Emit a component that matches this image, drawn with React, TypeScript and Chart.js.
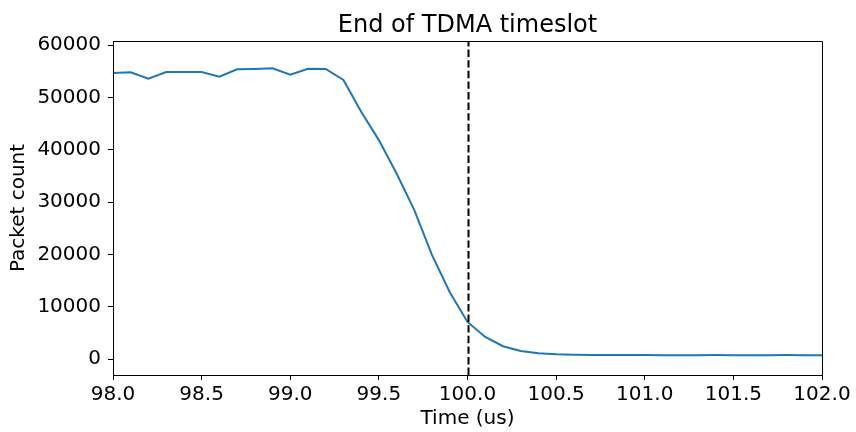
import React, { useEffect, useRef } from "react";
import { Chart, registerables } from "chart.js";

Chart.register(...registerables);

// Sample times (microseconds) and packet counts around the end of the slot
const timeUs = [
  98.0, 98.1, 98.2, 98.3, 98.4, 98.5, 98.6, 98.7, 98.8, 98.9,
  99.0, 99.1, 99.2, 99.3, 99.4, 99.5, 99.6, 99.7, 99.8, 99.9,
  100.0, 100.1, 100.2, 100.3, 100.4, 100.5, 100.6, 100.7, 100.8, 100.9,
  101.0, 101.1, 101.2, 101.3, 101.4, 101.5, 101.6, 101.7, 101.8, 101.9,
  102.0,
];
const packetCount = [
  54680, 54820, 53600, 54870, 54870, 54870, 53980, 55390, 55450, 55580,
  54360, 55510, 55450, 53350, 47290, 41870, 35500, 28490, 19900, 12800,
  7130, 4270, 2490, 1590, 1150, 950, 850, 820, 810, 800,
  800, 790, 780, 790, 800, 790, 780, 790, 800, 790,
  780,
];

const xTicks = [98.0, 98.5, 99.0, 99.5, 100.0, 100.5, 101.0, 101.5, 102.0];
const yTicks = [0, 10000, 20000, 30000, 40000, 50000, 60000];

const slotEndUs = 100.0;
const chartTitle = "End of TDMA timeslot";
const xLabel = "Time (us)";
const yLabel = "Packet count";

const FONT = "'DejaVu Sans', 'Liberation Sans', sans-serif";

// Title, slot-end marker and the closed axes frame
const decorations = {
  id: "decorations",
  afterDatasetsDraw(chart: any) {
    const { ctx, chartArea, scales } = chart;
    const x = Math.round(scales.x.getPixelForValue(slotEndUs)) + 0.5;
    ctx.save();
    ctx.strokeStyle = "#000";
    ctx.lineWidth = 2;
    ctx.setLineDash([7.4, 3.2]);
    ctx.beginPath();
    ctx.moveTo(x, chartArea.bottom);
    ctx.lineTo(x, chartArea.top);
    ctx.stroke();
    ctx.restore();
  },
  afterDraw(chart: any) {
    const { ctx, chartArea } = chart;
    ctx.save();
    ctx.strokeStyle = "#000";
    ctx.lineWidth = 1;
    const l = Math.round(chartArea.left) + 0.5;
    const r = Math.round(chartArea.right) + 0.5;
    const t = Math.round(chartArea.top) + 0.5;
    const b = Math.round(chartArea.bottom) + 0.5;
    ctx.beginPath();
    ctx.moveTo(l, b);
    ctx.lineTo(l, t);
    ctx.lineTo(r, t);
    ctx.lineTo(r, b);
    ctx.lineTo(l, b);
    ctx.stroke();

    ctx.fillStyle = "#000";
    ctx.font = `24px ${FONT}`;
    ctx.textAlign = "center";
    ctx.textBaseline = "alphabetic";
    ctx.fillText(chartTitle, (chartArea.left + chartArea.right) / 2, 31.5);
    ctx.restore();
  },
};

export default function App() {
  const canvasRef = useRef<HTMLCanvasElement | null>(null);

  useEffect(() => {
    document.body.style.margin = "0";
    const canvas = canvasRef.current;
    if (!canvas) return;

    const chart = new Chart(canvas, {
      type: "line",
      data: {
        datasets: [
          {
            data: timeUs.map((t, i) => ({ x: t, y: packetCount[i] })),
            borderColor: "#1f77b4",
            borderWidth: 2,
            pointRadius: 0,
            fill: false,
            tension: 0,
          },
        ],
      },
      options: {
        responsive: false,
        animation: false,
        devicePixelRatio: 1,
        layout: { padding: { top: 41, right: 34, bottom: 0, left: 0 } },
        plugins: {
          legend: { display: false },
          tooltip: { enabled: false },
          title: { display: false },
        },
        scales: {
          x: {
            type: "linear",
            min: 98,
            max: 102,
            afterBuildTicks: (scale: any) => {
              scale.ticks = xTicks.map((v) => ({ value: v }));
            },
            afterFit: (scale: any) => {
              scale.height = 57;
            },
            ticks: {
              color: "#000",
              font: { family: FONT, size: 20 },
              padding: 3,
              maxRotation: 0,
              autoSkip: false,
              callback: (v: any) => Number(v).toFixed(1),
            },
            grid: {
              drawOnChartArea: false,
              drawTicks: true,
              tickLength: 5,
              color: "#000",
              lineWidth: 1,
            },
            border: { display: true, color: "#000", width: 1 },
            title: {
              display: true,
              text: xLabel,
              color: "#000",
              font: { family: FONT, size: 20, lineHeight: 1.2 },
              padding: { top: 0, bottom: 1.5 },
            },
          },
          y: {
            type: "linear",
            min: -3000,
            max: 60800,
            afterBuildTicks: (scale: any) => {
              scale.ticks = yTicks.map((v) => ({ value: v }));
            },
            afterFit: (scale: any) => {
              scale.width = 113;
            },
            ticks: {
              color: "#000",
              font: { family: FONT, size: 20 },
              padding: 7,
              autoSkip: false,
              callback: (v: any) => String(v),
            },
            grid: {
              drawOnChartArea: false,
              drawTicks: true,
              tickLength: 5,
              color: "#000",
              lineWidth: 1,
            },
            border: { display: true, color: "#000", width: 1 },
            title: {
              display: true,
              text: yLabel,
              color: "#000",
              font: { family: FONT, size: 20, lineHeight: 1.2 },
              padding: { top: 7, bottom: 0 },
            },
          },
        },
      },
      plugins: [decorations],
    });

    return () => chart.destroy();
  }, []);

  return (
    <div style={{ position: "absolute", left: 0, top: 0, width: 856, height: 432 }}>
      <canvas ref={canvasRef} width={856} height={432} style={{ display: "block" }} />
    </div>
  );
}
